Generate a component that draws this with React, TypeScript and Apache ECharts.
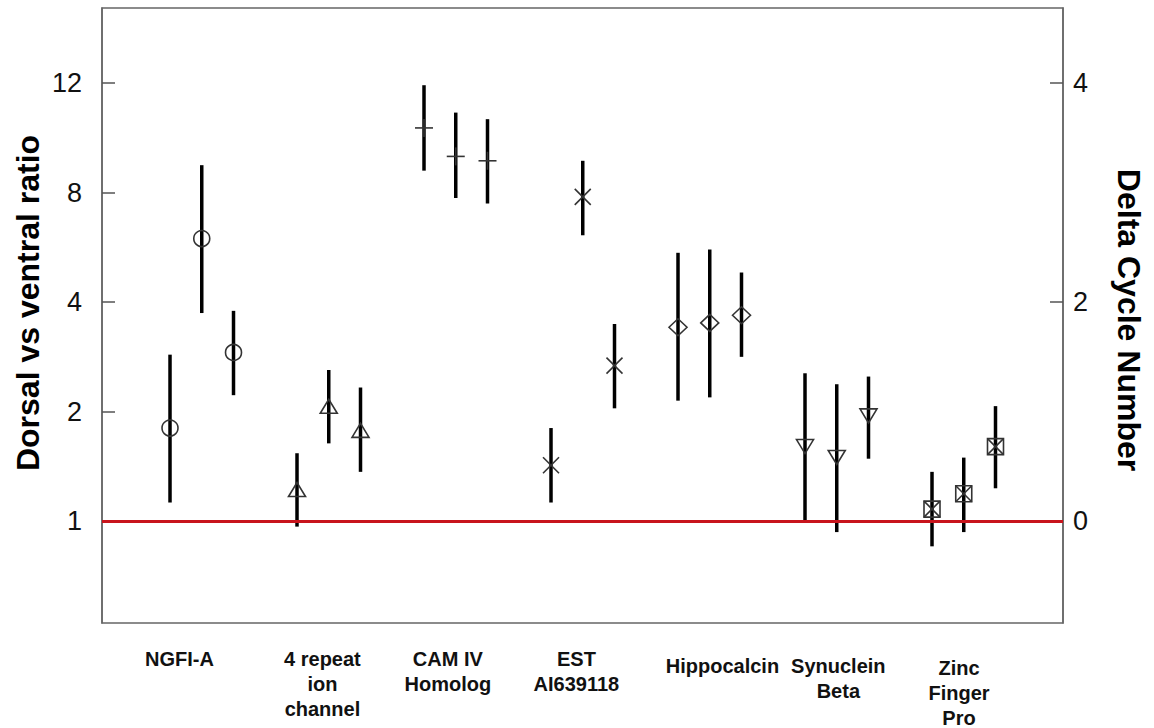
import React, { useEffect, useRef } from 'react';
import * as echarts from 'echarts';

// Gene groups (x-axis categories) and where their labels sit on the x scale
const groupNames = [
  'NGFI-A',
  '4 repeat\nion\nchannel',
  'CAM IV\nHomolog',
  'EST\nAI639118',
  'Hippocalcin',
  'Synuclein\nBeta',
  'Zinc\nFinger\nPro',
];
const groupLabelPos = [0.3, 4.8, 8.75, 12.8, 17.4, 21.05, 24.85];
const groupLabelDrop = [0, 0, 0, 0, 7, 7, 9];
const groupMarkers = ['circle', 'triangle', 'plus', 'cross', 'diamond', 'triangleDown', 'boxX'];
const pointsPerGroup = 3;
const groupStride = 4;

// Values in delta-cycle units (log2 of the dorsal/ventral ratio)
const meanValues = [
  0.85, 2.58, 1.54,
  0.28, 1.04, 0.82,
  3.59, 3.33, 3.29,
  0.51, 2.96, 1.42,
  1.77, 1.81, 1.88,
  0.69, 0.59, 0.97,
  0.11, 0.25, 0.68,
];
const lowValues = [
  0.17, 1.9, 1.15,
  -0.05, 0.71, 0.45,
  3.2, 2.95, 2.9,
  0.17, 2.61, 1.03,
  1.1, 1.13, 1.5,
  0.0, -0.1, 0.57,
  -0.23, -0.1, 0.3,
];
const highValues = [
  1.52, 3.25, 1.92,
  0.62, 1.38, 1.22,
  3.98, 3.73, 3.67,
  0.85, 3.29, 1.8,
  2.45, 2.48, 2.27,
  1.35, 1.25, 1.32,
  0.45, 0.58, 1.05,
];

const leftTickValues = [0, 1, 2, 3, 4];
const leftTickLabels = ['1', '2', '4', '8', '12'];
const rightTickValues = [0, 2, 4];
const rightTickLabels = ['0', '2', '4'];
const yMin = -0.93;
const yMax = 4.685;
const xMin = -2.142;
const xMax = 28.126;

const FONT = "'Liberation Sans', Arial, Helvetica, sans-serif";
const NARROW = "'Liberation Sans Narrow', 'Arial Narrow', 'Liberation Sans', Arial, sans-serif";

function lookupIndex(values: number[], v: number) {
  for (let i = 0; i < values.length; i++) {
    if (Math.abs(values[i] - v) < 1e-6) return i;
  }
  return -1;
}

function lookup(values: number[], labels: string[], v: number) {
  const i = lookupIndex(values, v);
  return i < 0 ? '' : labels[i];
}

export default function App() {
  const ref = useRef<HTMLDivElement>(null);

  useEffect(() => {
    if (!ref.current) return;
    const chart = echarts.init(ref.current, undefined, { renderer: 'svg' });

    const data = meanValues.map((m, idx) => {
      const g = Math.floor(idx / pointsPerGroup);
      const i = idx % pointsPerGroup;
      return [g * groupStride + i, m, lowValues[idx], highValues[idx], g];
    });

    const markerStroke = '#333';

    const richStyles: any = {
      t: {
        fontFamily: NARROW,
        fontWeight: 'bold',
        fontSize: 20,
        lineHeight: 25,
        color: '#111',
      },
    };
    groupLabelDrop.forEach((d) => {
      if (d > 0) richStyles['sp' + d] = { fontSize: 1, lineHeight: d, color: 'rgba(0,0,0,0)' };
    });

    const option: any = {
      animation: false,
      backgroundColor: '#fff',
      grid: {
        left: 102,
        right: 91,
        top: 8,
        bottom: 105,
        show: true,
        borderColor: '#666',
        borderWidth: 1.5,
        backgroundColor: 'transparent',
        outerBoundsMode: 'none',
      },
      xAxis: {
        type: 'value',
        min: xMin,
        max: xMax,
        axisLine: { show: false, onZero: false },
        axisTick: { show: false },
        splitLine: { show: false },
        axisLabel: {
          customValues: groupLabelPos,
          formatter: (v: number) => {
            const i = lookupIndex(groupLabelPos, v);
            if (i < 0) return '';
            const lines = groupNames[i].split('\n').map((l) => `{t|${l}}`);
            const d = groupLabelDrop[i];
            if (d > 0) lines.unshift(`{sp${d}| }`);
            return lines.join('\n');
          },
          rich: richStyles,
          margin: 23,
          verticalAlign: 'top',
        },
      },
      yAxis: [
        {
          type: 'value',
          min: yMin,
          max: yMax,
          position: 'left',
          axisLine: { show: true, onZero: false, lineStyle: { color: '#666', width: 1.5 } },
          axisTick: {
            show: true,
            inside: true,
            length: 13,
            customValues: leftTickValues,
            lineStyle: { color: '#555', width: 1.5 },
          },
          splitLine: { show: false },
          axisLabel: {
            customValues: leftTickValues,
            formatter: (v: number) => lookup(leftTickValues, leftTickLabels, v),
            fontFamily: FONT,
            fontSize: 27,
            color: '#111',
            margin: 20,
          },
        },
        {
          type: 'value',
          min: yMin,
          max: yMax,
          position: 'right',
          axisLine: { show: true, onZero: false, lineStyle: { color: '#666', width: 1.5 } },
          axisTick: {
            show: true,
            inside: true,
            length: 13,
            customValues: rightTickValues,
            lineStyle: { color: '#555', width: 1.5 },
          },
          splitLine: { show: false },
          axisLabel: {
            customValues: rightTickValues,
            formatter: (v: number) => lookup(rightTickValues, rightTickLabels, v),
            fontFamily: FONT,
            fontSize: 27,
            color: '#111',
            margin: 10,
          },
        },
      ],
      graphic: [
        {
          type: 'text',
          x: 28,
          y: 303,
          rotation: Math.PI / 2,
          style: {
            text: 'Dorsal vs ventral ratio',
            font: `bold 32px ${FONT}`,
            fill: '#000',
            align: 'center',
            verticalAlign: 'middle',
          },
        },
        {
          type: 'text',
          x: 1129,
          y: 320,
          rotation: -Math.PI / 2,
          style: {
            text: 'Delta Cycle Number',
            font: `bold 32px ${FONT}`,
            fill: '#000',
            align: 'center',
            verticalAlign: 'middle',
          },
        },
      ],
      series: [
        {
          type: 'custom',
          name: 'range',
          xAxisIndex: 0,
          yAxisIndex: 0,
          z: 2,
          clip: false,
          data,
          encode: { x: 0, y: [1, 2, 3] },
          renderItem: (params: any, api: any) => {
            const x = api.value(0);
            const lo = api.coord([x, api.value(2)]);
            const hi = api.coord([x, api.value(3)]);
            return {
              type: 'line',
              shape: { x1: lo[0], y1: lo[1], x2: hi[0], y2: hi[1] },
              style: { stroke: '#000', lineWidth: 3.5 },
            };
          },
          markLine: {
            silent: true,
            symbol: ['none', 'none'],
            label: { show: false },
            lineStyle: { color: '#c8141c', width: 3, type: 'solid', opacity: 1 },
            emphasis: { disabled: true },
            data: [{ yAxis: 0 }],
          },
        },
        {
          type: 'custom',
          name: 'mean',
          xAxisIndex: 0,
          yAxisIndex: 0,
          z: 3,
          clip: false,
          data,
          encode: { x: 0, y: 1 },
          renderItem: (params: any, api: any) => {
            const p = api.coord([api.value(0), api.value(1)]);
            const kind = groupMarkers[api.value(4)];
            const cx = p[0];
            const cy = p[1];
            const st = { stroke: markerStroke, lineWidth: 1.6, fill: 'none' };
            if (kind === 'circle') {
              return { type: 'circle', shape: { cx, cy, r: 8 }, style: st };
            }
            if (kind === 'triangle') {
              return {
                type: 'polygon',
                shape: { points: [[cx - 8.5, cy + 6], [cx + 8.5, cy + 6], [cx, cy - 8]] },
                style: st,
              };
            }
            if (kind === 'triangleDown') {
              return {
                type: 'polygon',
                shape: { points: [[cx - 8.5, cy - 6], [cx + 8.5, cy - 6], [cx, cy + 8]] },
                style: st,
              };
            }
            if (kind === 'diamond') {
              return {
                type: 'polygon',
                shape: { points: [[cx - 9, cy], [cx, cy - 8.5], [cx + 9, cy], [cx, cy + 8.5]] },
                style: st,
              };
            }
            if (kind === 'plus') {
              return {
                type: 'group',
                children: [
                  { type: 'line', shape: { x1: cx - 9, y1: cy, x2: cx + 9, y2: cy }, style: st },
                  { type: 'line', shape: { x1: cx, y1: cy - 9, x2: cx, y2: cy + 9 }, style: st },
                ],
              };
            }
            if (kind === 'cross') {
              return {
                type: 'group',
                children: [
                  { type: 'line', shape: { x1: cx - 8, y1: cy - 8, x2: cx + 8, y2: cy + 8 }, style: st },
                  { type: 'line', shape: { x1: cx - 8, y1: cy + 8, x2: cx + 8, y2: cy - 8 }, style: st },
                ],
              };
            }
            // box with an X
            return {
              type: 'group',
              children: [
                { type: 'rect', shape: { x: cx - 8, y: cy - 8, width: 16, height: 16 }, style: st },
                { type: 'line', shape: { x1: cx - 8, y1: cy - 8, x2: cx + 8, y2: cy + 8 }, style: st },
                { type: 'line', shape: { x1: cx - 8, y1: cy + 8, x2: cx + 8, y2: cy - 8 }, style: st },
              ],
            };
          },
        },
      ],
    };

    chart.setOption(option);
    return () => chart.dispose();
  }, []);

  return (
    <div
      ref={ref}
      style={{ position: 'fixed', left: 0, top: 0, width: 1154, height: 728, background: '#fff' }}
    />
  );
}
